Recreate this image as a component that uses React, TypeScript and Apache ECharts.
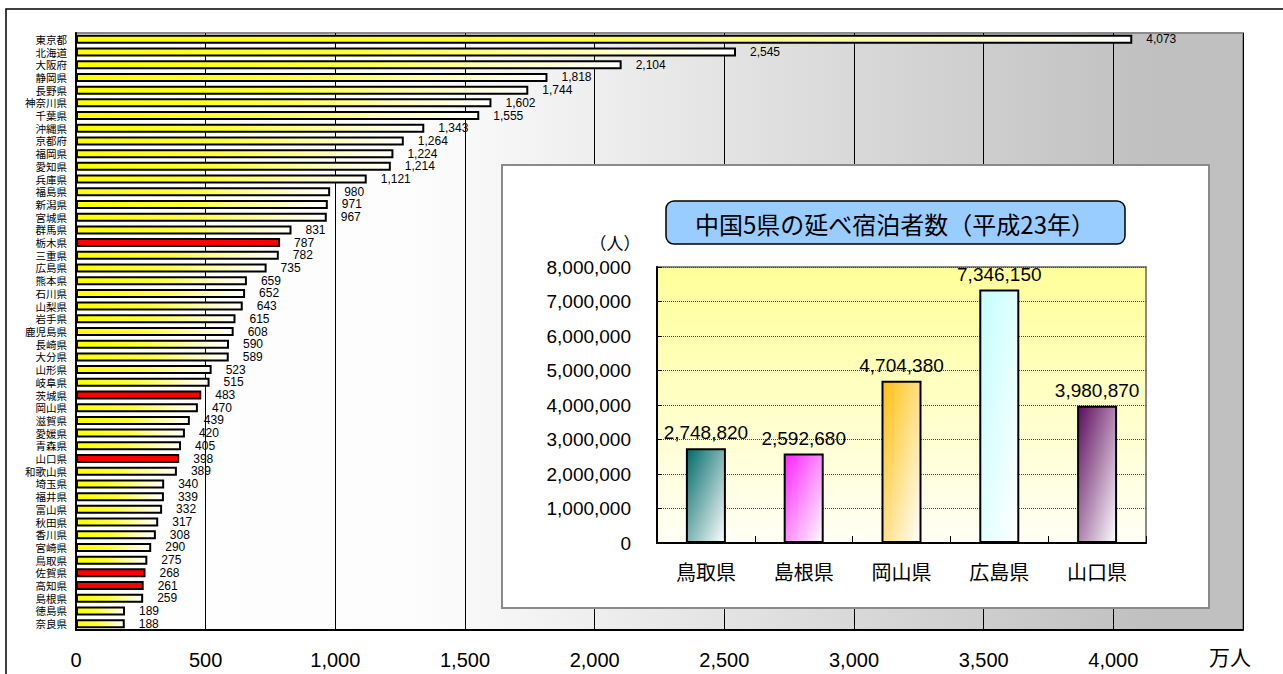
import React, { useEffect, useRef } from "react";
import * as echarts from "echarts";

const categories = [
  "東京都", "北海道", "大阪府", "静岡県", "長野県", "神奈川県", "千葉県", "沖縄県", "京都府", "福岡県",
  "愛知県", "兵庫県", "福島県", "新潟県", "宮城県", "群馬県", "栃木県", "三重県", "広島県", "熊本県",
  "石川県", "山梨県", "岩手県", "鹿児島県", "長崎県", "大分県", "山形県", "岐阜県", "茨城県", "岡山県",
  "滋賀県", "愛媛県", "青森県", "山口県", "和歌山県", "埼玉県", "福井県", "富山県", "秋田県", "香川県",
  "宮崎県", "鳥取県", "佐賀県", "高知県", "島根県", "徳島県", "奈良県",
];
const values = [
  4073, 2545, 2104, 1818, 1744, 1602, 1555, 1343, 1264, 1224,
  1214, 1121, 980, 971, 967, 831, 787, 782, 735, 659,
  652, 643, 615, 608, 590, 589, 523, 515, 483, 470,
  439, 420, 405, 398, 389, 340, 339, 332, 317, 308,
  290, 275, 268, 261, 259, 189, 188,
];
const highlighted = ["栃木県", "茨城県", "山口県", "佐賀県", "高知県"];
const xTicks = [0, 500, 1000, 1500, 2000, 2500, 3000, 3500, 4000, 4500];
const unitLabel = "万人";

const insetCategories = ["鳥取県", "島根県", "岡山県", "広島県", "山口県"];
const insetValues = [2748820, 2592680, 4704380, 7346150, 3980870];
const insetColors = ["#006a6a", "#ff22ff", "#ffbf10", "#c4ffff", "#5e0a5e"];
const insetTitle = "中国5県の延べ宿泊者数（平成23年）";
const insetUnit = "（人）";

const fmt = (v: number) => v.toLocaleString("en-US");
const FONT = "'Liberation Sans', 'Noto Sans CJK JP', sans-serif";
const JFONT = "'Noto Sans CJK JP', sans-serif";

export default function App() {
  const ref = useRef<HTMLDivElement>(null);
  useEffect(() => {
    if (!ref.current) return;
    const chart = echarts.init(ref.current, undefined, { renderer: "svg" });
    const LG = echarts.graphic.LinearGradient;
    const yellow = new LG(0, 0, 1, 0, [
      { offset: 0, color: "#ffff00" },
      { offset: 0.45, color: "#ffff40" },
      { offset: 0.8, color: "#ffffc0" },
      { offset: 1, color: "#ffffff" },
    ]);
    const option: any = {
      animation: false,
      textStyle: { fontFamily: FONT },
      grid: [
        {
          left: 76, right: 40, top: 33, bottom: 44,
          show: true,
          borderColor: "#8a8a8a",
          borderWidth: 2,
          backgroundColor: new LG(0, 0, 1, 0, [
            { offset: 0, color: "#ffffff" },
            { offset: 0.3, color: "#fcfcfc" },
            { offset: 0.92, color: "#c0c0c0" },
            { offset: 1, color: "#c0c0c0" },
          ]),
          z: 0,
        },
        {
          left: 657, top: 267, width: 489, height: 276,
          show: true,
          borderColor: "#8a8a8a",
          borderWidth: 2,
          backgroundColor: new LG(0, 0, 0, 1, [
            { offset: 0, color: "#ffff99" },
            { offset: 1, color: "#fffff6" },
          ]),
          z: 11,
        },
      ],
      xAxis: [
        {
          type: "value",
          gridIndex: 0,
          min: xTicks[0],
          max: xTicks[xTicks.length - 1],
          interval: xTicks[1] - xTicks[0],
          axisLine: { show: true, lineStyle: { color: "#000", width: 2 } },
          axisTick: { show: false },
          splitLine: { show: true, lineStyle: { color: "#000", width: 1 } },
          axisLabel: {
            fontSize: 20,
            color: "#000",
            margin: 20,
            formatter: (v: number) => (v === xTicks[xTicks.length - 1] ? "" : fmt(v)),
          },
        },
        {
          type: "category",
          gridIndex: 1,
          data: insetCategories,
          z: 12,
          axisLine: { show: true, lineStyle: { color: "#000", width: 2 } },
          axisTick: { show: true, inside: true, length: 7, lineStyle: { color: "#000" } },
          axisLabel: { fontSize: 20, color: "#000", margin: 18, fontFamily: JFONT },
        },
      ],
      yAxis: [
        {
          type: "category",
          gridIndex: 0,
          inverse: true,
          data: categories,
          axisLine: { show: true, lineStyle: { color: "#000", width: 2 } },
          axisTick: { show: false },
          axisLabel: { fontSize: 10.5, color: "#000", margin: 9, fontFamily: JFONT, interval: 0 },
        },
        {
          type: "value",
          gridIndex: 1,
          min: 0,
          max: 8000000,
          interval: 1000000,
          z: 12,
          axisLine: { show: true, lineStyle: { color: "#000", width: 2 } },
          axisTick: { show: true, inside: true, length: 5, lineStyle: { color: "#000" } },
          splitLine: { show: true, lineStyle: { color: "#444", type: "dotted", width: 1 } },
          axisLabel: { fontSize: 19, color: "#000", margin: 26, formatter: (v: number) => fmt(v) },
        },
      ],
      series: [
        {
          type: "bar",
          xAxisIndex: 0,
          yAxisIndex: 0,
          barWidth: 9,
          z: 2,
          data: values.map((v, i) => ({
            value: v,
            itemStyle: {
              color: highlighted.includes(categories[i]) ? "#ff0000" : yellow,
            },
          })),
          itemStyle: { borderColor: "#000", borderWidth: 2 },
          label: {
            show: true,
            position: "right",
            distance: 14,
            fontSize: 12,
            color: "#000",
            formatter: (p: any) => fmt(p.value),
          },
        },
        {
          type: "bar",
          xAxisIndex: 1,
          yAxisIndex: 1,
          barWidth: 40,
          z: 13,
          data: insetValues.map((v, i) => ({
            value: v,
            itemStyle: {
              color: new LG(0, 0, 1, 1, [
                { offset: 0, color: insetColors[i] },
                { offset: 1, color: "#ffffff" },
              ]),
            },
          })),
          itemStyle: { borderColor: "#000", borderWidth: 2 },
          label: {
            show: true,
            position: "top",
            distance: 6,
            fontSize: 19,
            color: "#000",
            formatter: (p: any) => fmt(p.value),
          },
        },
      ],
      graphic: [
        {
          type: "polyline",
          z: 50,
          shape: { points: [[6, 674], [6, 9], [1283, 9]] },
          style: { stroke: "#000", lineWidth: 1.5, fill: null },
        },
        {
          type: "rect",
          z: 10,
          shape: { x: 502, y: 165, width: 707, height: 443 },
          style: { fill: "#ffffff", stroke: "#8a8a8a", lineWidth: 2 },
        },
        {
          type: "rect",
          z: 20,
          shape: { x: 666, y: 201, width: 459, height: 43, r: 8 },
          style: { fill: "#99ccff", stroke: "#000", lineWidth: 1.5 },
        },
        {
          type: "text",
          z: 21,
          x: 895,
          y: 223,
          style: {
            text: insetTitle,
            fontSize: 24,
            fontFamily: JFONT,
            fill: "#000",
            align: "center",
            verticalAlign: "middle",
          },
        },
        {
          type: "text",
          z: 21,
          x: 615,
          y: 242,
          style: {
            text: insetUnit,
            fontSize: 17,
            fontFamily: JFONT,
            fill: "#000",
            align: "center",
            verticalAlign: "middle",
          },
        },
        {
          type: "text",
          z: 21,
          x: 1230,
          y: 656,
          style: {
            text: unitLabel,
            fontSize: 21,
            fontFamily: JFONT,
            fill: "#000",
            align: "center",
            verticalAlign: "middle",
          },
        },
      ],
    };
    chart.setOption(option);
    return () => chart.dispose();
  }, []);
  return (
    <div
      ref={ref}
      style={{ position: "fixed", left: 0, top: 0, width: 1283, height: 674, background: "#fff" }}
    />
  );
}
